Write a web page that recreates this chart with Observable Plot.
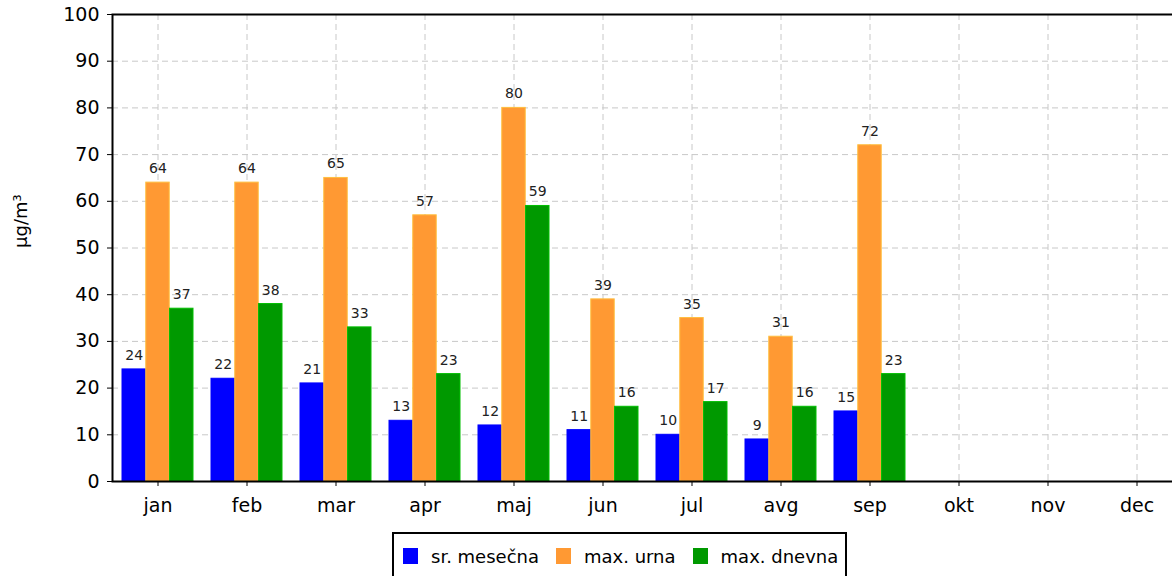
<!DOCTYPE html>
<html>
<head>
<meta charset="utf-8">
<script src="https://cdn.jsdelivr.net/npm/d3@7"></script>
<script src="https://cdn.jsdelivr.net/npm/@observablehq/plot@0.6"></script>
<style>
  html, body { margin: 0; padding: 0; background: #fff; overflow: hidden; width: 1172px; height: 576px; }
  #chart svg { display: block; }
  .legend { position: absolute; left: 392px; top: 532px; width: 455px; height: 48px; border: 2px solid #000; box-sizing: border-box;
    font-family: "DejaVu Sans", sans-serif; font-size: 18px; color: #000; display: flex; align-items: center; padding-left: 9px; white-space: nowrap; }
  .legend .sw { width: 15px; height: 16px; display: inline-block; margin-right: 13px; flex: none; }
  .legend .it { display: flex; align-items: center; margin-right: 17px; flex: none; }
</style>
</head>
<body>
<div id="chart"></div>
<div class="legend" id="legend"></div>
<script>
const months = ["jan","feb","mar","apr","maj","jun","jul","avg","sep","okt","nov","dec"];
const seriesNames = ["sr. mesečna", "max. urna", "max. dnevna"];
const seriesColors = ["#0000ff", "#ff9933", "#009900"];
const srMesecna = [24, 22, 21, 13, 12, 11, 10, 9, 15, null, null, null];
const maxUrna   = [64, 64, 65, 57, 80, 39, 35, 31, 72, null, null, null];
const maxDnevna = [37, 38, 33, 23, 59, 16, 17, 16, 23, null, null, null];
const yTicks = [0, 10, 20, 30, 40, 50, 60, 70, 80, 90, 100];
const yLabel = "µg/m³";

const W = 1190, H = 520, mL = 112, mR = 8, mT = 14, mB = 39;
const step = (W - mL - mR) / months.length;
const third = step * 0.8 / 3;

const seriesValues = [srMesecna, maxUrna, maxDnevna];
const rows = seriesValues.map((vals, s) =>
  months.map((m, i) => ({month: m, value: vals[i], series: seriesNames[s]})).filter(d => d.value != null));

const insets = [[0, 2 * third], [third, third], [2 * third, 0]];
const offsets = [-third, 0, third];

const marks = [
  Plot.ruleY(yTicks.filter(t => t > 0 && t < 100), {y: d => d, stroke: "#c8c8c8", strokeWidth: 1, strokeDasharray: "6,4"}),
  Plot.ruleX(months, {x: d => d, stroke: "#c8c8c8", strokeWidth: 1, strokeDasharray: "6,4"}),
];
rows.forEach((r, s) => {
  marks.push(Plot.barY(r, {x: "month", y: "value", fill: seriesColors[s], stroke: d3.color(seriesColors[s]).brighter(0.6).formatHex(), strokeWidth: 1,
    insetLeft: insets[s][0], insetRight: insets[s][1]}));
});
rows.forEach((r, s) => {
  marks.push(Plot.text(r, {x: "month", y: "value", text: d => String(d.value), dx: offsets[s], dy: -14, fontSize: 14, fill: "#222"}));
});
marks.push(Plot.frame({stroke: "#000", strokeWidth: 2}));
marks.push(Plot.text([yLabel], {frameAnchor: "left", dx: -91, rotate: -90, fontSize: 18, fill: "#000"}));

const chart = Plot.plot({
  width: W, height: H,
  marginLeft: mL, marginRight: mR, marginTop: mT, marginBottom: mB,
  style: {fontFamily: "DejaVu Sans, sans-serif", fontSize: "19px", color: "#000", background: "#fff", maxWidth: "none", overflow: "visible"},
  x: {domain: months, paddingInner: 0.2, paddingOuter: 0.1, label: null, tickSize: 5, tickPadding: 12},
  y: {domain: [0, 100], ticks: yTicks, label: null, tickSize: 5, tickPadding: 8},
  marks
});
document.getElementById("chart").appendChild(chart);

const legend = document.getElementById("legend");
seriesNames.forEach((n, i) => {
  const it = document.createElement("span");
  it.className = "it";
  const sw = document.createElement("span");
  sw.className = "sw";
  sw.style.background = seriesColors[i];
  it.appendChild(sw);
  it.appendChild(document.createTextNode(n));
  legend.appendChild(it);
});
</script>
</body>
</html>
